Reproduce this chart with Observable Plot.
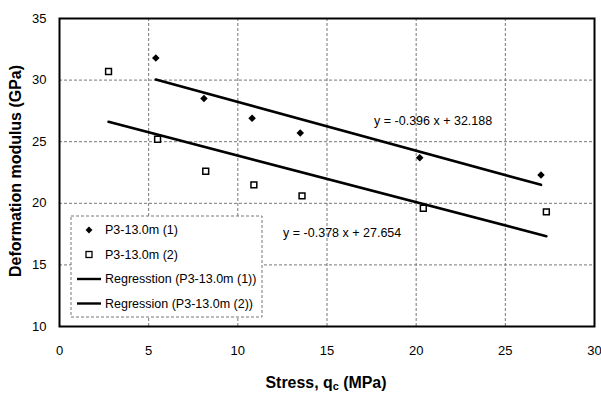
<!DOCTYPE html>
<html><head><meta charset="utf-8">
<script src="https://cdn.jsdelivr.net/npm/d3@7"></script>
<script src="https://cdn.jsdelivr.net/npm/@observablehq/plot@0.6"></script>
<style>
body{margin:0;background:#fff;}
#chart{position:relative;width:601px;height:393px;}
</style>
</head><body>
<div id="chart"></div>
<script>
// ---- data ----
const seriesNames = ["P3-13.0m (1)", "P3-13.0m (2)"];
const regressionNames = ["Regresstion (P3-13.0m (1))", "Regression (P3-13.0m (2))"];
const stress1 = [5.4, 8.1, 10.8, 13.5, 20.2, 27.0];
const modulus1 = [31.8, 28.5, 26.9, 25.7, 23.7, 22.3];
const stress2 = [2.75, 5.5, 8.2, 10.9, 13.6, 20.4, 27.3];
const modulus2 = [30.7, 25.2, 22.6, 21.5, 20.6, 19.6, 19.3];
const slopes = [-0.396, -0.378];
const intercepts = [32.188, 27.654];
const equationLabels = ["y = -0.396 x + 32.188", "y = -0.378 x + 27.654"];
const equationX = [20.95, 15.85];
const equationY = [26.7, 17.6];
const xTicks = [0, 5, 10, 15, 20, 25, 30];
const yTicks = [10, 15, 20, 25, 30, 35];
const xTitle = "Stress, q";
const xTitleSub = "c";
const xTitleEnd = " (MPa)";
const yTitle = "Deformation modulus (GPa)";

const FONT = '"Liberation Sans Narrow","Arial Narrow","Liberation Sans",Arial,sans-serif';

const pts1 = stress1.map((x, i) => ({x, y: modulus1[i]}));
const pts2 = stress2.map((x, i) => ({x, y: modulus2[i]}));
const xs = [stress1, stress2];
const reg = [0, 1].flatMap(k => {
  const lo = d3.min(xs[k]), hi = d3.max(xs[k]);
  return [lo, hi].map(x => ({k, x, y: intercepts[k] + slopes[k] * x}));
});
const eq = equationLabels.map((t, i) => ({t, x: equationX[i], y: equationY[i]}));

const chart = Plot.plot({
  width: 601, height: 393,
  marginLeft: 59, marginRight: 7, marginTop: 18, marginBottom: 67,
  style: {fontFamily: FONT, fontSize: "13px", color: "#000", background: "#fff"},
  x: {domain: [0, 30]},
  y: {domain: [10, 35]},
  marks: [
    Plot.gridX(xTicks.slice(1, -1), {stroke: "#777", strokeOpacity: 1, strokeDasharray: "3,2", strokeWidth: 1}),
    Plot.gridY(yTicks.slice(1, -1), {stroke: "#777", strokeOpacity: 1, strokeDasharray: "3,2", strokeWidth: 1}),
    Plot.axisX(xTicks, {tickSize: 0, tickPadding: 19, label: null, fontSize: 13}),
    Plot.axisY(yTicks, {tickSize: 0, tickPadding: 13, label: null, fontSize: 13}),
    Plot.line(reg, {x: "x", y: "y", z: "k", stroke: "#000", strokeWidth: 2.6}),
    Plot.dot(pts1, {x: "x", y: "y", symbol: "diamond2", fill: "#000", stroke: "none", r: 3.4}),
    Plot.dot(pts2, {x: "x", y: "y", symbol: "square", fill: "#fff", stroke: "#000", strokeWidth: 1.5, r: 3.3}),
    Plot.text(eq, {x: "x", y: "y", text: "t", fontSize: 12.5, fill: "#000", textAnchor: "middle"}),
    Plot.frame({stroke: "#000", strokeWidth: 2})
  ]
});
document.getElementById("chart").appendChild(chart);

const svg = d3.select(chart);
// axis titles
const xt = svg.append("text").attr("x", 326).attr("y", 388).attr("text-anchor", "middle")
  .attr("font-family", FONT).attr("font-weight", "bold").attr("font-size", 16).attr("fill", "#000")
  .attr("textLength", 121).attr("lengthAdjust", "spacingAndGlyphs");
xt.append("tspan").text(xTitle);
xt.append("tspan").attr("font-size", 11).attr("dy", 2).text(xTitleSub);
xt.append("tspan").attr("dy", -2).text(xTitleEnd);
svg.append("text").attr("transform", "translate(21,171) rotate(-90)").attr("text-anchor", "middle")
  .attr("font-family", FONT).attr("font-weight", "bold").attr("font-size", 16.5).attr("fill", "#000")
  .attr("textLength", 212).attr("lengthAdjust", "spacingAndGlyphs")
  .text(yTitle);

// legend
const lg = svg.append("g").attr("transform", "translate(71,216)");
lg.append("rect").attr("width", 191).attr("height", 101).attr("fill", "#fff")
  .attr("stroke", "#777").attr("stroke-dasharray", "3,2");
const rows = [14, 38.5, 63, 87.5];
const labels = [seriesNames[0], seriesNames[1], regressionNames[0], regressionNames[1]];
labels.forEach((t, i) => {
  const g = lg.append("g").attr("transform", `translate(0,${rows[i]})`);
  if (i === 0) g.append("path").attr("transform", "translate(18,0)").attr("d", d3.symbol(d3.symbolDiamond2, 30)()).attr("fill", "#000");
  else if (i === 1) g.append("rect").attr("x", 15).attr("y", -3).attr("width", 6).attr("height", 6).attr("fill", "#fff").attr("stroke", "#000").attr("stroke-width", 1.3);
  else g.append("line").attr("x1", 6).attr("x2", 30).attr("stroke", "#000").attr("stroke-width", 2.4);
  g.append("text").attr("x", 34).attr("dy", "0.35em").attr("text-anchor", "start")
    .attr("font-family", FONT).attr("font-size", 12.5).attr("fill", "#000").text(t);
});
</script>
</body></html>
